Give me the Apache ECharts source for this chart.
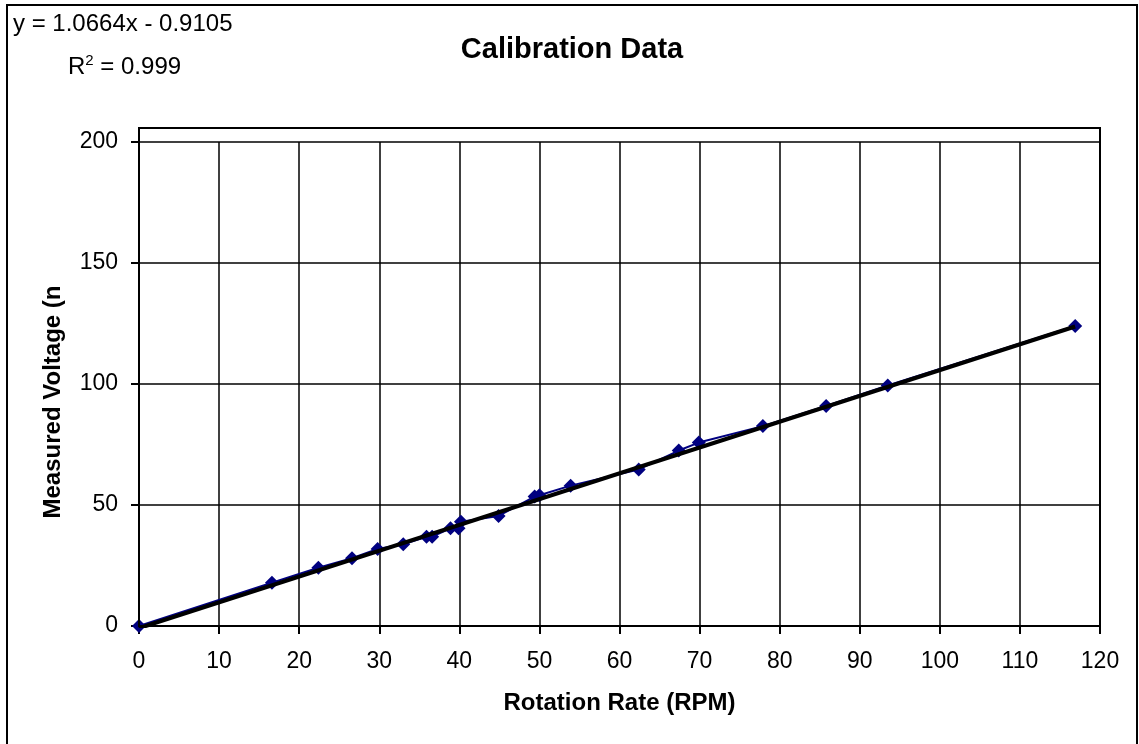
<!DOCTYPE html>
<html>
<head>
<meta charset="utf-8">
<script src="https://cdn.jsdelivr.net/npm/echarts@6/dist/echarts.min.js"></script>
<style>
html,body{margin:0;padding:0;background:#fff;}
#c{width:1139px;height:744px;}
</style>
</head>
<body>
<div id="c"></div>
<script>
const rpm = [0, 16.6, 22.4, 26.6, 29.8, 33.0, 35.9, 36.6, 38.9, 39.9, 40.2, 44.9, 49.4, 50.0, 53.9, 62.4, 67.4, 69.9, 77.9, 85.8, 93.5, 116.9];
const voltage = [0, 17.9, 24.1, 28.0, 31.8, 33.8, 36.9, 36.9, 40.4, 40.4, 43.1, 45.5, 53.5, 54.0, 58.0, 64.7, 72.5, 75.8, 82.6, 90.9, 99.4, 124.0];
const slope = 1.0664;
const intercept = -0.9105;
const rSquared = '0.999';
const xTicks = [0, 10, 20, 30, 40, 50, 60, 70, 80, 90, 100, 110, 120];
const yTicks = [0, 50, 100, 150, 200];

const FONT = '"Liberation Sans", Arial, sans-serif';
const dataPts = rpm.map((x, i) => [x, voltage[i]]);
const xMaxData = Math.max(...rpm);
const trend = [[0, intercept], [xMaxData, slope * xMaxData + intercept]];

const chart = echarts.init(document.getElementById('c'));
chart.setOption({
  animation: false,
  backgroundColor: '#fff',
  grid: { left: 139, right: 39, top: 142, bottom: 118 },
  xAxis: {
    type: 'value', min: xTicks[0], max: xTicks[xTicks.length - 1], interval: xTicks[1] - xTicks[0],
    axisLine: { show: true, onZero: false, lineStyle: { color: '#000', width: 2 } },
    axisTick: { show: true, length: 8, lineStyle: { color: '#000', width: 2 } },
    axisLabel: { color: '#000', fontFamily: FONT, fontSize: 23, margin: 24 },
    splitLine: { show: true, lineStyle: { color: '#000', width: 1.5 } },
    name: 'Rotation Rate (RPM)', nameLocation: 'middle', nameGap: 65,
    nameTextStyle: { color: '#000', fontFamily: FONT, fontSize: 24, fontWeight: 'bold' }
  },
  yAxis: {
    type: 'value', min: yTicks[0], max: yTicks[yTicks.length - 1], interval: yTicks[1] - yTicks[0],
    axisLine: { show: true, lineStyle: { color: '#000', width: 2 } },
    axisTick: { show: true, length: 8, lineStyle: { color: '#000', width: 2 } },
    axisLabel: { color: '#000', fontFamily: FONT, fontSize: 23, margin: 21 },
    splitLine: { show: true, lineStyle: { color: '#000', width: 1.5 } }
  },
  series: [
    {
      type: 'line', data: dataPts, symbol: 'diamond', symbolSize: 14,
      itemStyle: { color: '#000080' },
      lineStyle: { color: '#000080', width: 2 },
      z: 3
    },
    {
      type: 'line', data: trend, symbol: 'none',
      lineStyle: { color: '#000', width: 4 },
      z: 4, silent: true
    }
  ],
  graphic: [
    { type: 'rect', shape: { x: 7, y: 5, width: 1130, height: 800 }, style: { fill: null, stroke: '#000', lineWidth: 2 }, silent: true },
    { type: 'rect', shape: { x: 139, y: 128, width: 961, height: 498 }, style: { fill: null, stroke: '#000', lineWidth: 2 }, silent: true, z: 10 },
    { type: 'text', x: 572, y: 50, style: { text: 'Calibration Data', font: 'bold 29px ' + FONT, fill: '#000', align: 'center', verticalAlign: 'middle' } },
    { type: 'text', x: 13, y: 24, style: { text: 'y = ' + slope + 'x - ' + Math.abs(intercept), font: '24px ' + FONT, fill: '#000', verticalAlign: 'middle' } },
    { type: 'text', x: 68, y: 67, style: { text: '{a|R}{b|2}{a| = ' + rSquared + '}', fill: '#000', verticalAlign: 'middle',
        rich: { a: { font: '24px ' + FONT, fill: '#000' }, b: { font: '15px ' + FONT, fill: '#000', verticalAlign: 'top', padding: [0,0,12,0] } } } },
    { type: 'text', x: 53, y: 402, rotation: Math.PI / 2, style: { text: 'Measured Voltage (n', font: 'bold 24px ' + FONT, fill: '#000', align: 'center', verticalAlign: 'middle' } }
  ]
});
</script>
</body>
</html>
